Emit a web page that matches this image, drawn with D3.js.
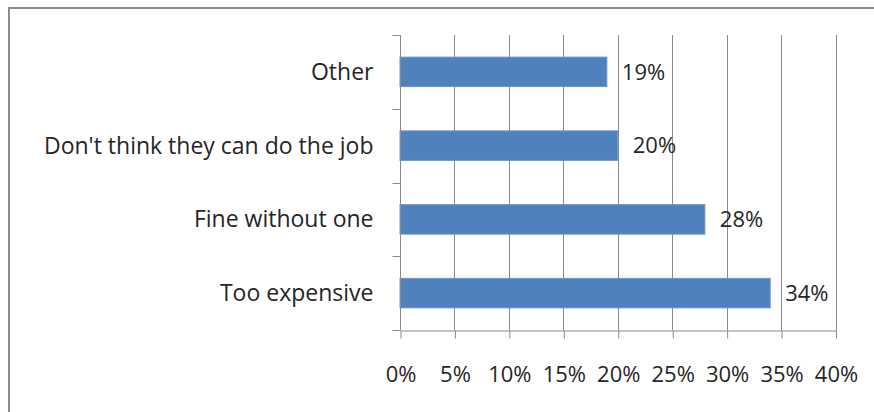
<!DOCTYPE html>
<html>
<head>
<meta charset="utf-8">
<script src="https://cdn.jsdelivr.net/npm/d3@7/dist/d3.min.js"></script>
<style>
  html, body { margin: 0; padding: 0; background: #fff; }
  svg { display: block; }
  text { font-family: "Open Sans", Lato, sans-serif; fill: #262626; }
</style>
</head>
<body>
<svg id="chart" width="874" height="412"></svg>
<script>
// Reasons given, listed top to bottom
const categories = ["Other", "Don't think they can do the job", "Fine without one", "Too expensive"];
const shares = [19, 20, 28, 34];
const xTicks = [0, 5, 10, 15, 20, 25, 30, 35, 40];

const W = 874, H = 412;
const plot = { left: 400, right: 835.5, top: 35, bottom: 330 };
const fontSize = 22;

const svg = d3.select("#chart");

// Outer frame (extends past the visible area on right and bottom)
svg.append("rect")
  .attr("x", 9).attr("y", 8)
  .attr("width", W + 20).attr("height", H + 20)
  .attr("fill", "none")
  .attr("stroke", "#8c8c8c")
  .attr("stroke-width", 2);

const x = d3.scaleLinear().domain([0, 40]).range([plot.left, plot.right]);
const y = d3.scaleBand().domain(categories)
  .range([plot.top, plot.bottom])
  .paddingInner(0.6).paddingOuter(0.3);

const grid = "#8a8a8a";

// Vertical gridlines
svg.append("g")
  .selectAll("line")
  .data(xTicks.slice(1))
  .join("line")
  .attr("x1", d => Math.round(x(d)) + 0.5)
  .attr("x2", d => Math.round(x(d)) + 0.5)
  .attr("y1", plot.top)
  .attr("y2", plot.bottom)
  .attr("stroke", grid)
  .attr("stroke-width", 1);

// Bars
svg.append("g")
  .selectAll("rect")
  .data(categories)
  .join("rect")
  .attr("x", x(0))
  .attr("y", d => y(d))
  .attr("width", (d, i) => x(shares[i]) - x(0))
  .attr("height", y.bandwidth())
  .attr("fill", "#4f81bd")
  .attr("stroke", "#6a95c8")
  .attr("stroke-width", 1);

// X axis
const xAxis = d3.axisBottom(x)
  .tickValues(xTicks)
  .tickFormat(d => d + "%")
  .tickSizeInner(8).tickSizeOuter(0).tickPadding(28);
const gx = svg.append("g")
  .attr("transform", `translate(0.5,${plot.bottom + 0.5})`)
  .call(xAxis);
gx.select(".domain").attr("stroke", grid);
gx.selectAll(".tick line").attr("stroke", grid);
gx.selectAll(".tick text")
  .attr("font-size", fontSize)
  .style("font-family", "'Open Sans', Lato, sans-serif")
  .attr("fill", "#262626");

// Y axis: ticks sit on band boundaries, labels centred on bands
const gy = svg.append("g").attr("transform", `translate(${plot.left + 0.5},0)`);
gy.append("line")
  .attr("x1", 0).attr("x2", 0)
  .attr("y1", plot.top).attr("y2", plot.bottom)
  .attr("stroke", grid);
const bounds = d3.range(categories.length + 1).map(i => plot.top + i * (plot.bottom - plot.top) / categories.length);
gy.selectAll("line.tk")
  .data(bounds)
  .join("line")
  .attr("class", "tk")
  .attr("x1", -8).attr("x2", 0)
  .attr("y1", d => Math.round(d) + 0.5)
  .attr("y2", d => Math.round(d) + 0.5)
  .attr("stroke", grid);
gy.selectAll("text")
  .data(categories)
  .join("text")
  .attr("x", -27)
  .attr("y", d => y(d) + y.bandwidth() / 2)
  .attr("dy", "0.35em")
  .attr("text-anchor", "end")
  .attr("font-size", 23)
  .text(d => d);

// Value labels
svg.append("g")
  .selectAll("text")
  .data(categories)
  .join("text")
  .attr("x", (d, i) => x(shares[i]) + 15)
  .attr("y", d => y(d) + y.bandwidth() / 2)
  .attr("dy", "0.35em")
  .attr("font-size", fontSize)
  .text((d, i) => shares[i] + "%");
</script>
</body>
</html>
